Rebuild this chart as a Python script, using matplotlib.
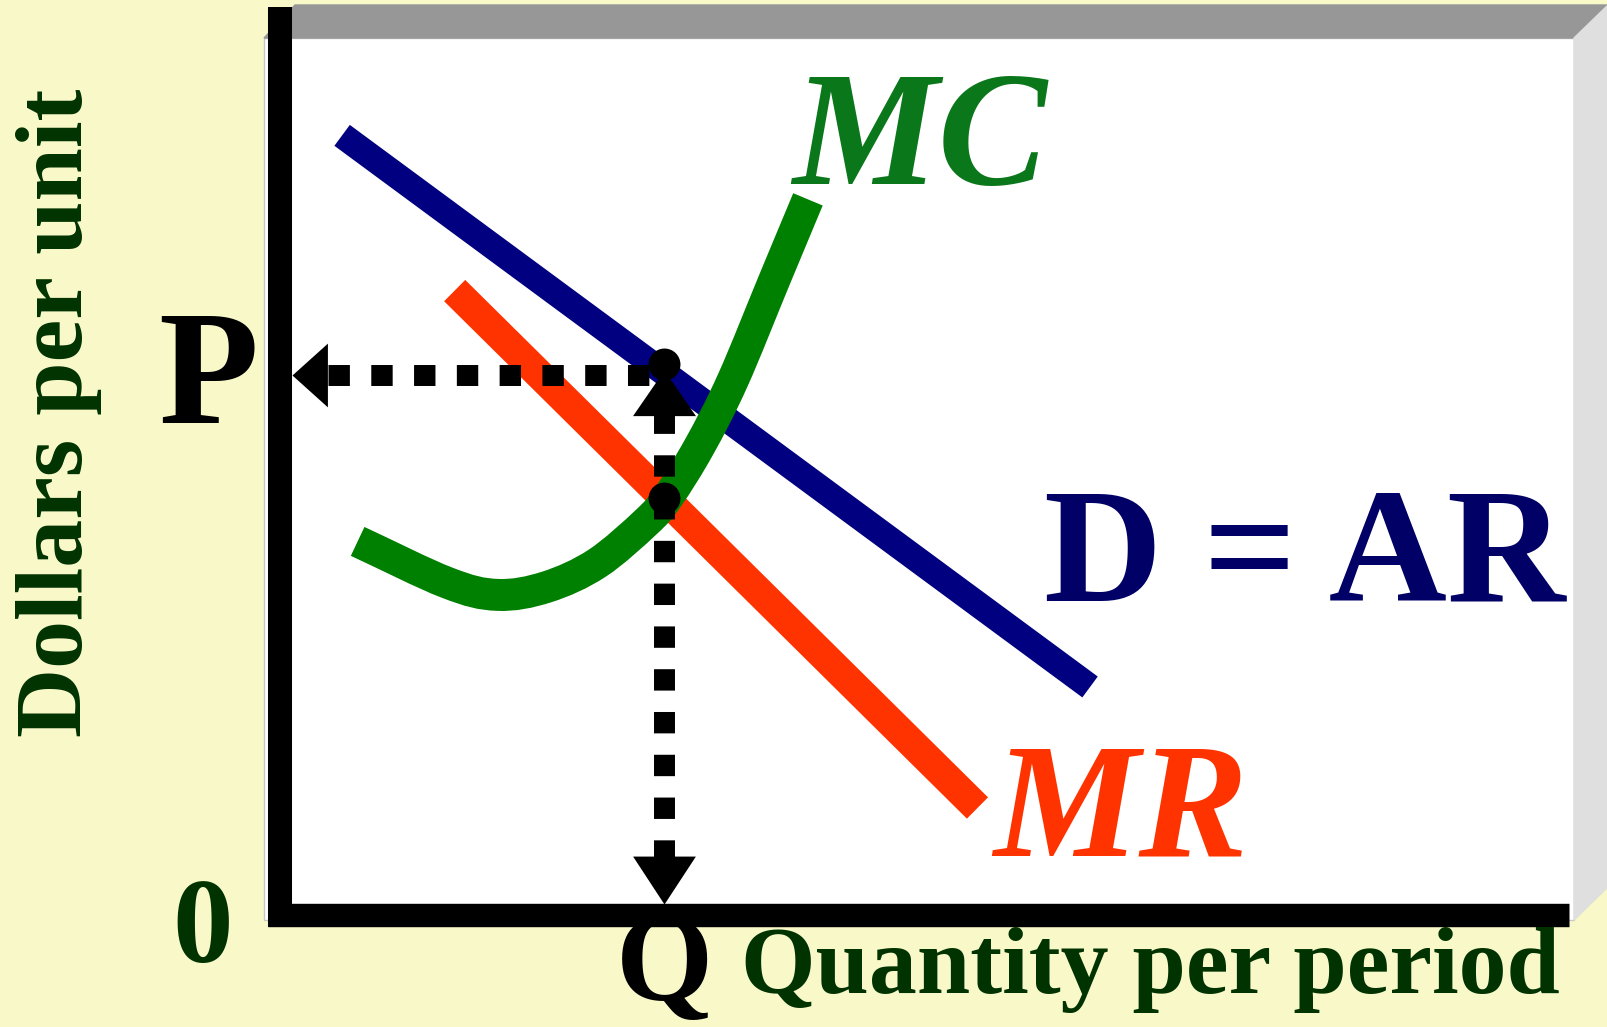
import matplotlib
matplotlib.use('Agg')
import matplotlib.pyplot as plt
import numpy as np
from matplotlib.patches import Polygon, PathPatch
from matplotlib.path import Path

# demand (= average revenue) and marginal revenue lines
demand_q = [0.48, 6.26]
demand_p = [8.89, 2.60]
mr_q = [1.35, 5.39]
mr_p = [7.12, 1.22]

# marginal cost curve
mc_q = [0.60, 1.29, 1.68, 2.06, 2.45, 2.83, 3.00, 3.24, 3.50, 3.82, 4.08]
mc_p = [4.26, 3.79, 3.65, 3.74, 4.01, 4.48, 4.77, 5.34, 6.10, 7.24, 8.16]

# profit maximising output and price
q_star = 2.97
p_star = 6.16
dot_p = [6.28, 4.75]   # points on D and on MR = MC

labels = {'mc': 'MC', 'mr': 'MR', 'd': 'D = AR', 'p': 'P', 'q': 'Q', 'zero': '0'}
x_title = 'Quantity per period'
y_title = 'Dollars per unit'

W, H = 1608, 1027
SERIF = 'Liberation Serif'
BG = '#F9F8C9'
DARK_GREEN = '#003300'


def fig_xy(x, y):
    return x / W, 1 - y / H


def smooth_path(xs, ys):
    # Catmull-Rom through the points, written as cubic Bezier segments
    pts = np.column_stack([xs, ys])
    ext = np.vstack([2 * pts[0] - pts[1], pts, 2 * pts[-1] - pts[-2]])
    verts = [pts[0]]
    codes = [Path.MOVETO]
    for i in range(1, len(ext) - 2):
        p0, p1, p2, p3 = ext[i - 1], ext[i], ext[i + 1], ext[i + 2]
        verts += [p1 + (p2 - p0) / 6, p2 - (p3 - p1) / 6, p2]
        codes += [Path.CURVE4] * 3
    return Path(verts, codes)


fig = plt.figure(figsize=(W / 100, H / 100), dpi=100, facecolor=BG)

# white board with a grey top edge and right face
frame = [
    ([(264, 38), (1574, 38), (1574, 920), (264, 920)], 'white', '#C8C8C8'),
    ([(264, 38), (295, 5), (1608, 5), (1574, 38)], '#979797', '#979797'),
    ([(1574, 38), (1608, 5), (1608, 887), (1574, 920)], '#DFDFDF', '#DFDFDF'),
]
for pts, fc, ec in frame:
    fig.patches.append(Polygon([fig_xy(*p) for p in pts], closed=True,
                               transform=fig.transFigure, facecolor=fc,
                               edgecolor=ec, lw=1, zorder=-1))

ax = fig.add_axes([280 / W, 1 - 915 / H, (1574 - 280) / W, (915 - 38) / H])
ax.set_xlim(0, 10)
ax.set_ylim(0, 10)
ax.axis('off')

ax.plot(demand_q, demand_p, color='#000080', lw=18.7, solid_capstyle='butt', zorder=2)
ax.plot(mr_q, mr_p, color='#FF3300', lw=21.6, solid_capstyle='butt', zorder=3)
ax.add_patch(PathPatch(smooth_path(mc_q, mc_p), fill=False, edgecolor='#008000',
                       lw=23, capstyle='butt', joinstyle='round', zorder=4))

# dotted guides to the axes
dot_style = dict(color='black', lw=15.1, linestyle=(0, (1.02, 1.02)),
                 dash_capstyle='butt', zorder=5)
ax.plot([0.37, q_star - 0.12], [p_star, p_star], **dot_style)
ax.plot([q_star, q_star], [5.73, 0.63], **dot_style)
ax.plot([q_star] * 2, dot_p, 'o', color='black', ms=23, mew=0, zorder=6)

# arrow heads, apex at the marker position
left_head = [(0, 0), (1, 0.9), (1, -0.9)]
up_head = [(0, 0), (-0.69, -1), (0.69, -1)]
down_head = [(0, 0), (-0.655, 1), (0.655, 1)]
ax.plot([0.09], [p_star], marker=left_head, ms=51, color='black', mew=0,
        clip_on=False, zorder=6)
ax.plot([q_star], [p_star + 0.05], marker=up_head, ms=65.7, color='black', mew=0, zorder=6)
ax.plot([q_star], [0.13], marker=down_head, ms=69, color='black', mew=0,
        clip_on=False, zorder=6)

# axes drawn as thick black bars
ax.plot([0, 0], [-0.137, 10.353], color='black', lw=17.3, solid_capstyle='butt',
        clip_on=False, zorder=8)
ax.plot([-0.093, 9.961], [0, 0], color='black', lw=16.85, solid_capstyle='butt',
        clip_on=False, zorder=8)

# curve labels
ax.text(4.94, 8.335, labels['mc'], family=SERIF, weight='bold', style='italic',
        size=118, color='#0A771A', ha='center', va='baseline', zorder=7)
ax.text(7.92, 3.59, labels['d'], family=SERIF, weight='bold', size=118,
        color='#000066', ha='center', va='baseline', zorder=7)
ax.text(6.50, 0.673, labels['mr'], family=SERIF, weight='bold', style='italic',
        size=118, color='#FF3300', ha='center', va='baseline', zorder=7)

# P, Q and origin labels
ax.annotate(labels['p'], xy=(0, p_star), xytext=(-51.4, -34.6), textcoords='offset points',
            family=SERIF, weight='bold', size=118, color='black',
            ha='center', va='baseline', annotation_clip=False, zorder=7)
ax.annotate(labels['q'], xy=(q_star, 0), xytext=(0, -61.2), textcoords='offset points',
            family=SERIF, weight='bold', size=90, color='black',
            ha='center', va='baseline', annotation_clip=False, zorder=7)
ax.annotate(labels['zero'], xy=(0, 0), xytext=(-55.4, -33.8), textcoords='offset points',
            family=SERIF, weight='bold', size=87, color=DARK_GREEN,
            ha='center', va='baseline', annotation_clip=False, zorder=7)

# axis titles
fig.text(*fig_xy(741, 993), x_title, family=SERIF, weight='bold', size=69,
         color=DARK_GREEN, ha='left', va='baseline')
fig.text(*fig_xy(82, 412.5), y_title, family=SERIF, weight='bold', size=69,
         color=DARK_GREEN, ha='center', va='baseline', rotation=90,
         rotation_mode='anchor')

fig.savefig('out.png', dpi=100, facecolor=fig.get_facecolor())
